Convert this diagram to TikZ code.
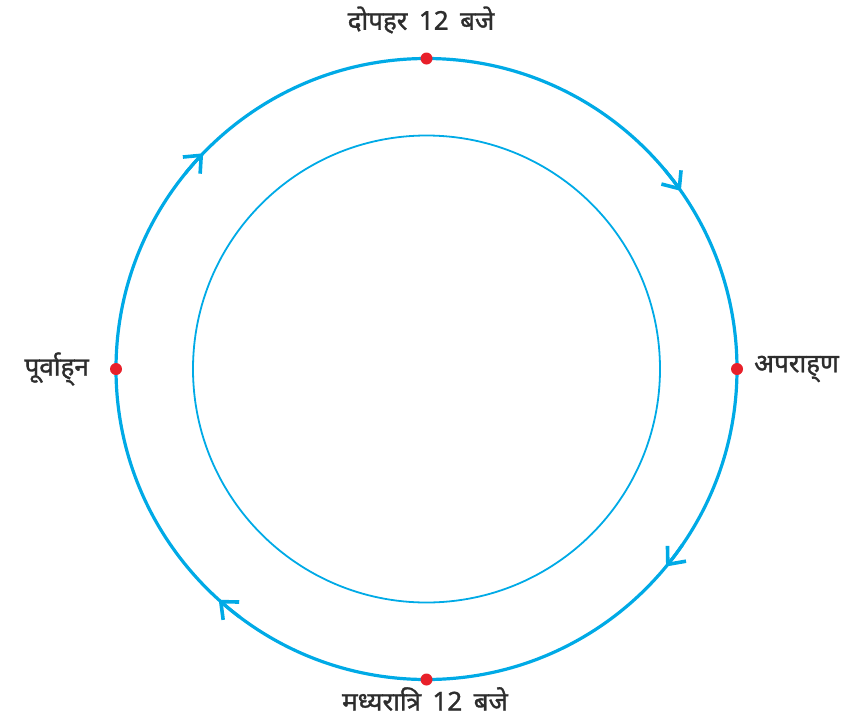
\documentclass[tikz,border=0pt]{standalone}
\usepackage{fontspec}
\newfontfamily\hi[Script=Devanagari,WordSpace={1.7},FakeBold=1.2]{Noto Sans}
\usetikzlibrary{arrows.meta}
\definecolor{cy}{RGB}{0,170,230}
\definecolor{rd}{RGB}{232,32,42}
\definecolor{tx}{RGB}{45,45,45}
\begin{document}
\begin{tikzpicture}[x=1pt,y=1pt,
  dot/.style={circle,fill=rd,inner sep=0pt,minimum size=12pt},
  lbl/.style={font=\hi\fontsize{26}{29}\selectfont,text=tx,inner sep=0pt},
  arr/.style={draw=cy,line width=3.2pt,-{Straight Barb[length=14pt,width=24pt,line width=3.6pt]}}]
\useasboundingbox (0,0) rectangle (852,-721);
\coordinate (c) at (426.5,-369);
\draw[cy,line width=3.2pt] (c) circle (310.5);
\draw[cy,line width=1.8pt] (c) circle (233.5);
\foreach \a in {136,35,-39.5,-132}{
  \draw[arr] ([shift={(\a+5:310.5)}]c) arc (\a+5:\a:310.5);
}
\node[dot] (top) at (426.5,-58.5) {};
\node[dot] (bot) at (426.5,-679.5) {};
\node[dot] (lft) at (116,-369) {};
\node[dot] (rgt) at (737,-369) {};
\node[lbl] (tl) at (421,-20) {दोपहर 12 बजे};
\node[lbl] (bl) at (425,-699) {मध्यरात्रि 12 बजे};
\node[lbl,anchor=east] (ll) at (89,-369) {पूर्वाह्‌न};
\node[lbl,anchor=west] (rl) at (754,-369) {अपराह्‌ण};
\end{tikzpicture}
\end{document}
